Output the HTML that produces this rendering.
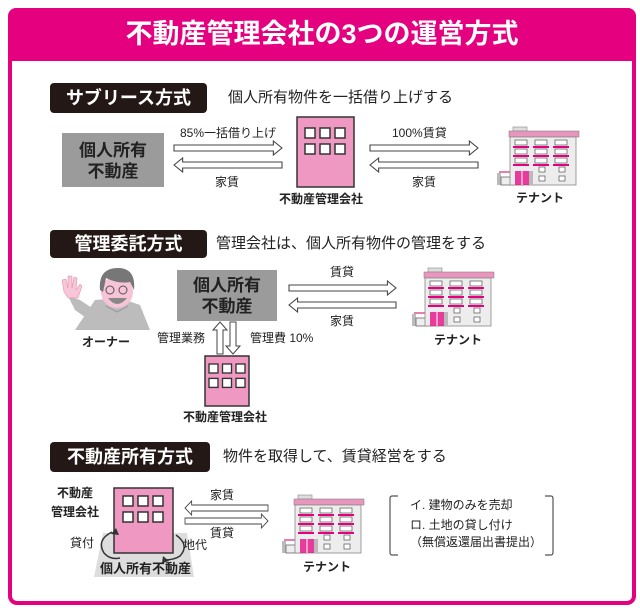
<!DOCTYPE html>
<html><head><meta charset="utf-8"><style>
*{margin:0;padding:0;box-sizing:border-box}
body{width:640px;height:611px;background:#fff;position:relative;overflow:hidden;font-family:"Liberation Sans","Noto Sans CJK JP",sans-serif;color:#222}
.frame{position:absolute;left:8px;top:8px;width:628px;height:597px;border:4px solid #e4007f;border-radius:9px}
.hdr{position:absolute;left:8px;top:8px;width:628px;height:53px;background:#e4007f;border-radius:8px 8px 0 0;color:#fff;font-weight:bold;font-size:27px;text-align:center;line-height:53px}
.t{position:absolute;white-space:nowrap;line-height:1}
.badge{position:absolute;background:#231815;color:#fff;font-weight:bold;font-size:18px;border-radius:4px;text-align:center}
.sub{font-size:15px}
.s{font-size:12px}
.b{font-weight:bold}
.gbox{position:absolute;background:#9b9b9b;font-weight:bold;font-size:17px;text-align:center;color:#222}
svg{position:absolute;left:0;top:0}
</style></head><body>
<div class="frame"></div>
<div class="hdr">不動産管理会社の3つの運営方式</div>

<svg width="640" height="611" viewBox="0 0 640 611">
<defs>
<g id="ten">
 <rect x="2" y="44" width="26" height="2" fill="#e77fae"/>
 <rect x="0" y="46" width="4" height="12" fill="#bbb"/>
 <rect x="4" y="50" width="22" height="8" fill="#eee" stroke="#666" stroke-width="0.8"/>
 <rect x="16" y="0" width="14" height="4" fill="#ddd" stroke="#888" stroke-width="0.6"/>
 <rect x="12" y="4" width="70" height="6" fill="#e995bd" stroke="#888" stroke-width="0.6"/>
 <rect x="13" y="10" width="66" height="48" fill="#eeeded" stroke="#888" stroke-width="0.8"/>
 <g fill="#fff" stroke="#666" stroke-width="0.8">
  <rect x="18" y="13" width="12" height="5"/><rect x="38" y="13" width="12" height="5"/><rect x="58" y="13" width="12" height="5"/>
  <rect x="18" y="22" width="12" height="5"/><rect x="38" y="22" width="12" height="5"/><rect x="58" y="22" width="12" height="5"/>
  <rect x="18" y="31" width="12" height="5"/><rect x="38" y="31" width="12" height="5"/><rect x="58" y="31" width="12" height="5"/>
  <rect x="42" y="40" width="6" height="5"/><rect x="62" y="40" width="6" height="5"/>
  <rect x="42" y="49" width="6" height="5"/><rect x="62" y="49" width="6" height="5"/>
 </g>
 <g fill="#e4007f"><rect x="16" y="19" width="16" height="2"/><rect x="36" y="19" width="16" height="2"/><rect x="56" y="19" width="16" height="2"/>
 <rect x="16" y="28" width="16" height="2"/><rect x="36" y="28" width="16" height="2"/><rect x="56" y="28" width="16" height="2"/>
 <rect x="16" y="37" width="16" height="2"/><rect x="36" y="37" width="16" height="2"/><rect x="56" y="37" width="16" height="2"/></g>
 <rect x="18" y="44" width="14" height="14" fill="#e4007f" opacity="0.75"/>
 <line x1="25" y1="44" x2="25" y2="58" stroke="#fff" stroke-width="1"/>
 <rect x="32" y="44" width="4" height="14" fill="#bbb"/>
</g>
<g id="ar"><path d="M0,-3 H92 V-7 L100,0 L92,7 V3 H0 Z" fill="#fff" stroke="#444" stroke-width="1"/></g>
<g id="win" fill="#fff" stroke="#333" stroke-width="1.5">
 <rect x="0" y="0" width="10" height="10"/><rect x="15" y="0" width="10" height="10"/><rect x="30" y="0" width="10" height="10"/>
 <rect x="0" y="16" width="10" height="10"/><rect x="15" y="16" width="10" height="10"/><rect x="30" y="16" width="10" height="10"/>
</g>
</defs>

<g transform="translate(174,148)"><use href="#ar" transform="scale(1.08,1)"/></g>
<g transform="translate(282,165) scale(-1,1)"><use href="#ar" transform="scale(1.08,1)"/></g>
<rect x="297" y="117" width="57" height="70" fill="#ef98c2" stroke="#333" stroke-width="1.5"/>
<use href="#win" x="305" y="128"/>
<g transform="translate(370,148)"><use href="#ar" transform="scale(1.08,1)"/></g>
<g transform="translate(478,165) scale(-1,1)"><use href="#ar" transform="scale(1.08,1)"/></g>
<use href="#ten" x="497" y="127"/>

<g transform="translate(289,288)"><use href="#ar" transform="scale(1.07,1)"/></g>
<g transform="translate(396,305) scale(-1,1)"><use href="#ar" transform="scale(1.07,1)"/></g>
<use href="#ten" x="412" y="268"/>
<path d="M217,354 V330 H213 L220,322 L227,330 H223 V354 Z" fill="#fff" stroke="#444"/>
<path d="M230,322 V346 H226 L233,354 L240,346 H236 V322 Z" fill="#fff" stroke="#444"/>
<rect x="205" y="356" width="44" height="50" fill="#ef98c2" stroke="#333" stroke-width="1.5"/>
<use href="#win" transform="translate(209,364) scale(0.9)"/>
<g>
 <path d="M75,330 L95,300 L120,298 L140,305 L150,330 Z" fill="#bcbcbc"/>
 <path d="M68,296 L75,310 L92,322 L98,312 L80,300 Z" fill="#bcbcbc"/>
 <path d="M64,292 L62,280 L66,279 L68,288 L68,276 L72,276 L72,288 L74,277 L77,278 L76,290 L80,284 L82,286 L78,298 L68,298 Z" fill="#f7c6d8" stroke="#d89" stroke-width="0.5"/>
 <circle cx="117" cy="292" r="16" fill="#f6c3d7"/>
 <path d="M100,290 Q98,268 118,268 Q136,268 134,290 L130,282 Q118,284 106,278 L103,292 Z" fill="#777"/>
 <circle cx="110" cy="290" r="4" fill="none" stroke="#555"/><circle cx="123" cy="290" r="4" fill="none" stroke="#555"/>
 <path d="M108,298 Q117,310 127,298 Z" fill="#888"/>
 <path d="M106,306 L117,312 L128,306" fill="none" stroke="#999"/>
</g>

<path d="M103,533 H187 L194,577 H94 Z" fill="#ddd"/>
<rect x="114" y="488" width="59" height="65" fill="#ef98c2" stroke="#333" stroke-width="1.5"/>
<use href="#win" x="123" y="496"/>
<path d="M112,532 Q96,540 104,553 Q110,560 120,558" fill="none" stroke="#333" stroke-width="1.5"/>
<path d="M116,528 L111,534 L119,535 Z" fill="#333"/>
<path d="M176,535 Q190,545 180,556 Q174,560 164,560" fill="none" stroke="#333" stroke-width="1.5"/>
<path d="M163,556 L162,563 L169,561 Z" fill="#333"/>
<g transform="translate(268,508) scale(-1,1)"><use href="#ar" transform="scale(0.83,1)"/></g>
<g transform="translate(185,521)"><use href="#ar" transform="scale(0.83,1)"/></g>
<use href="#ten" x="282" y="495"/>
<path d="M398,496 H392 Q390,496 390,499 V552 Q390,555 392,555 H398" fill="none" stroke="#555" stroke-width="1.2"/>
<path d="M545,496 H551 Q553,496 553,499 V552 Q553,555 551,555 H545" fill="none" stroke="#555" stroke-width="1.2"/>
</svg>

<div class="badge" style="left:50px;top:83px;width:157px;height:30px;line-height:30px">サブリース方式</div>
<div class="t sub" style="left:228px;top:90px">個人所有物件を一括借り上げする</div>
<div class="gbox" style="left:62px;top:133px;width:102px;height:54px;padding-top:7px;line-height:21px">個人所有<br>不動産</div>
<div class="t s" style="left:180px;top:127px">85%一括借り上げ</div>
<div class="t s" style="left:215px;top:176px">家賃</div>
<div class="t s b" style="left:279px;top:193px">不動産管理会社</div>
<div class="t s" style="left:392px;top:127px">100%賃貸</div>
<div class="t s" style="left:412px;top:176px">家賃</div>
<div class="t s b" style="left:516px;top:192px">テナント</div>

<div class="badge" style="left:50px;top:230px;width:157px;height:28px;line-height:28px">管理委託方式</div>
<div class="t sub" style="left:216px;top:236px">管理会社は、個人所有物件の管理をする</div>
<div class="gbox" style="left:177px;top:270px;width:100px;height:51px;padding-top:5px;line-height:21px">個人所有<br>不動産</div>
<div class="t s" style="left:330px;top:266px">賃貸</div>
<div class="t s" style="left:330px;top:315px">家賃</div>
<div class="t s b" style="left:434px;top:334px">テナント</div>
<div class="t s b" style="left:82px;top:336px">オーナー</div>
<div class="t s" style="left:157px;top:332px">管理業務</div>
<div class="t s" style="left:250px;top:332px">管理費 10%</div>
<div class="t s b" style="left:183px;top:411px">不動産管理会社</div>

<div class="badge" style="left:50px;top:442px;width:160px;height:30px;line-height:30px">不動産所有方式</div>
<div class="t sub" style="left:223px;top:449px">物件を取得して、賃貸経営をする</div>
<div class="t s b" style="left:57px;top:487px">不動産</div>
<div class="t s b" style="left:51px;top:506px">管理会社</div>
<div class="t s" style="left:210px;top:489px">家賃</div>
<div class="t s" style="left:210px;top:527px">賃貸</div>
<div class="t s" style="left:70px;top:537px">貸付</div>
<div class="t s" style="left:183px;top:539px">地代</div>
<div class="t s b" style="left:100px;top:562px;font-size:13px">個人所有不動産</div>
<div class="t s b" style="left:303px;top:561px">テナント</div>
<div class="t s" style="left:410px;top:499px">イ. 建物のみを売却</div>
<div class="t s" style="left:410px;top:519px">ロ. 土地の貸し付け</div>
<div class="t s" style="left:410px;top:536px">（無償返還届出書提出）</div>
</body></html>
